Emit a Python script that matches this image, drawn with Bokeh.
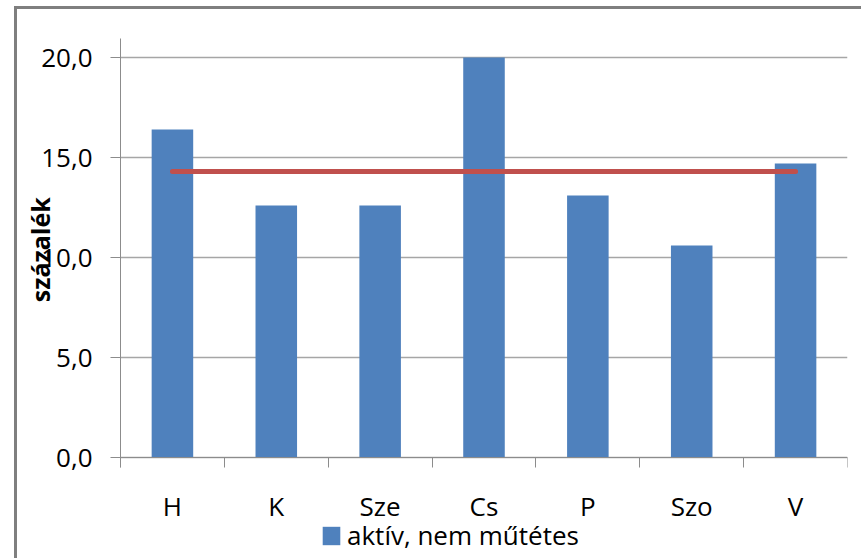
from bokeh.plotting import figure
from bokeh.models import (ColumnDataSource, Range1d, FixedTicker, CustomJSTickFormatter,
                          Legend, LegendItem)
from bokeh.embed import file_html
from bokeh.resources import INLINE

categories = ["H", "K", "Sze", "Cs", "P", "Szo", "V"]
aktiv_nem_mutetes = [16.4, 12.6, 12.6, 20.0, 13.1, 10.6, 14.7]
atlag = [14.3, 14.3, 14.3, 14.3, 14.3, 14.3, 14.3]
y_ticks = [0, 5, 10, 15, 20]
y_label = "százalék"

x_pos = [i + 0.5 for i in range(len(categories))]
src = ColumnDataSource(dict(x=x_pos, cat=categories, val=aktiv_nem_mutetes, avg=atlag))

FONT = "Open Sans"

# frame spans to the bottom of the canvas so that the legend below the axis is not clipped
p = figure(width=861, height=558, output_backend="svg", toolbar_location=None,
           x_range=Range1d(0, len(categories)), y_range=Range1d(-5.05, 20.95))
p.min_border = 0
p.min_border_left = 120
p.min_border_right = 14
p.min_border_top = 38
p.min_border_bottom = 0
p.outline_line_color = None
p.background_fill_color = None
p.border_fill_color = None
p.styles = {
    "background": "linear-gradient(#7f7f7f,#7f7f7f) 14px 6px / 3px 100% no-repeat, "
                  "linear-gradient(#7f7f7f,#7f7f7f) 14px 6px / 100% 3px no-repeat, white"
}

bars = p.vbar(x="x", top="val", width=0.4, source=src, fill_color="#4F81BD",
              line_color="#4F81BD", line_width=0)
p.line(x="x", y="avg", source=src, line_color="#C0504D", line_width=5, line_cap="round")

# x axis: labels at category centres, ticks at boundaries
p.xaxis.fixed_location = 0
p.xaxis.ticker = FixedTicker(ticks=x_pos, minor_ticks=list(range(len(categories) + 1)))
p.xaxis.major_label_overrides = {x: c for x, c in zip(x_pos, categories)}
p.xaxis.major_tick_out = 0
p.xaxis.major_tick_in = 0
p.xaxis.minor_tick_out = 10
p.xaxis.minor_tick_in = 0
p.xaxis.minor_tick_line_color = "#8C8C8C"
p.xaxis.axis_line_color = "#8C8C8C"
p.xaxis.major_label_standoff = 20
p.xaxis.major_label_text_font = FONT
p.xaxis.major_label_text_font_size = "26px"
p.xaxis.major_label_text_color = "#000000"
p.xgrid.grid_line_color = None

# y axis
p.yaxis.bounds = (-0.5, 20.95)
p.yaxis.ticker = FixedTicker(ticks=y_ticks, minor_ticks=[])
p.yaxis.formatter = CustomJSTickFormatter(code="return tick.toFixed(1).replace('.', ',');")
p.yaxis.major_tick_out = 10
p.yaxis.major_tick_in = 0
p.yaxis.major_tick_line_color = "#8C8C8C"
p.yaxis.axis_line_color = "#8C8C8C"
p.yaxis.major_label_standoff = 18
p.yaxis.major_label_text_font = FONT
p.yaxis.major_label_text_font_size = "26px"
p.yaxis.major_label_text_color = "#000000"
# leading no-break spaces lift the centred label to the middle of the value axis
p.yaxis.axis_label = "\u00a0" * 15 + y_label
p.yaxis.axis_label_text_font = FONT
p.yaxis.axis_label_text_font_style = "bold"
p.yaxis.axis_label_text_font_size = "25px"
p.yaxis.axis_label_text_color = "#000000"
p.yaxis.axis_label_standoff = -19
p.ygrid.grid_line_color = "#A6A6A6"
p.ygrid.grid_line_width = 1.5

legend = Legend(items=[LegendItem(label="aktív, nem műtétes", renderers=[bars])],
                location=(200, 5), orientation="horizontal",
                glyph_width=22, glyph_height=23, label_standoff=5,
                padding=0, margin=0, spacing=0,
                border_line_color=None, background_fill_alpha=0,
                label_text_font=FONT, label_text_font_size="26px",
                label_text_color="#000000")
p.add_layout(legend, "center")

open("out.html", "w").write(file_html(p, INLINE))
